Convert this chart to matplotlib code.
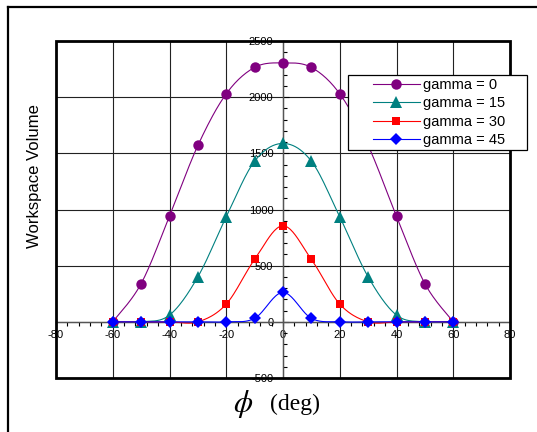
import matplotlib.pyplot as plt
import numpy as np
from matplotlib.patches import Rectangle
from matplotlib.lines import Line2D

phi = np.array([-60, -50, -40, -30, -20, -10, 0, 10, 20, 30, 40, 50, 60])
vol_g0 = np.array([0, 340, 940, 1570, 2030, 2265, 2305, 2265, 2030, 1570, 940, 340, 0])
vol_g15 = np.array([0, 0, 60, 400, 935, 1430, 1588, 1430, 935, 400, 60, 0, 0])
vol_g30 = np.array([0, 0, 0, 0, 158, 556, 855, 556, 158, 0, 0, 0, 0])
vol_g45 = np.array([0, 0, 0, 0, 0, 31, 262, 31, 0, 0, 0, 0, 0])

labels = ['gamma = 0', 'gamma = 15', 'gamma = 30', 'gamma = 45']
colors = ['#800080', '#008080', '#ff0000', '#0000ff']
markers = ['o', '^', 's', 'D']
msizes = [7.5, 8, 5.5, 6.5]


def smooth(x, y, n=24):
    # excel-style smoothed line (bezier through the points)
    pts = np.column_stack([x, y]).astype(float)
    out = [pts[0]]
    t = np.linspace(0, 1, n)[1:, None]
    for i in range(len(pts) - 1):
        p0 = pts[i - 1] if i > 0 else pts[i]
        p1, p2 = pts[i], pts[i + 1]
        p3 = pts[i + 2] if i + 2 < len(pts) else pts[i + 1]
        c1 = p1 + (p2 - p0) / 6
        c2 = p2 - (p3 - p1) / 6
        seg = ((1 - t) ** 3) * p1 + 3 * ((1 - t) ** 2) * t * c1 + 3 * (1 - t) * t ** 2 * c2 + t ** 3 * p2
        out.extend(seg)
    out = np.array(out)
    return out[:, 0], out[:, 1]


plt.rcParams['font.family'] = ['Liberation Sans', 'DejaVu Sans']
plt.rcParams['axes.unicode_minus'] = False
fig = plt.figure(figsize=(5.37, 4.32), dpi=100)
ax = fig.add_axes([56 / 537, 1 - 378 / 432, 454 / 537, 337 / 432])

ax.set_xlim(-80, 80)
ax.set_ylim(-500, 2500)
ax.set_xticks(np.arange(-80, 81, 20))
ax.set_yticks(np.arange(-500, 2501, 500))
ax.set_xticks(np.arange(-80, 81, 4), minor=True)
ax.set_yticks(np.arange(-500, 2501, 100), minor=True)
ax.grid(which='major', color='#222222', linewidth=0.8)

ax.spines['left'].set_position(('data', 0))
ax.spines['bottom'].set_position(('data', 0))
ax.spines['right'].set_visible(False)
ax.spines['top'].set_visible(False)
for s in ['left', 'bottom']:
    ax.spines[s].set_color('#555555')
    ax.spines[s].set_linewidth(1.0)
ax.tick_params(axis='x', which='major', direction='inout', length=6, width=0.8, labelsize=8, pad=3)
ax.tick_params(axis='x', which='minor', direction='out', length=3, width=0.8)
ax.tick_params(axis='y', which='major', direction='in', length=4, width=0.8, labelsize=8, pad=7)
ax.tick_params(axis='y', which='minor', direction='in', length=3, width=0.8)

for yv, lab, c, m, ms in zip([vol_g0, vol_g15, vol_g30, vol_g45], labels, colors, markers, msizes):
    sx, sy = smooth(phi, yv)
    ax.plot(sx, sy, color=c, linewidth=0.8, zorder=3)
    ax.plot(phi, yv, linestyle='none', marker=m, markersize=ms, color=c,
            markeredgewidth=0, zorder=4)

ax.add_patch(Rectangle((0, 0), 1, 1, transform=ax.transAxes, fill=False,
                       edgecolor='black', linewidth=2, zorder=10, clip_on=False))

# legend box drawn separately so the padding can be wider on the sides
fig.add_artist(Rectangle((348 / 537, 1 - 150 / 432), 179 / 537, 75 / 432,
                         transform=fig.transFigure, facecolor='white',
                         edgecolor='black', linewidth=0.9, zorder=20))
handles = [Line2D([], [], color=c, marker=m, markersize=ms, linewidth=0.8, markeredgewidth=0)
           for c, m, ms in zip(colors, markers, msizes)]
leg = fig.legend(handles, labels, loc='center left', bbox_to_anchor=(373 / 537, 1 - 112.5 / 432),
                 fontsize=10.5, frameon=False, handlelength=3.2, borderpad=0,
                 borderaxespad=0, labelspacing=0.3, handletextpad=0.25)
leg.set_zorder(21)

fig.text(35 / 537, 1 - 176 / 432, 'Workspace Volume', rotation=90, fontsize=12,
         ha='center', va='center')
fig.text(243 / 537, 1 - 404 / 432, r'$\phi$', fontsize=22, math_fontfamily='stix',
         ha='center', va='center')
fig.text(270 / 537, 1 - 404 / 432, '(deg)', fontsize=17, family='Liberation Serif',
         ha='left', va='center')

# outer frame
fig.add_artist(Line2D([8 / 537, 1], [1 - 7 / 432] * 2, color='black', linewidth=1.6,
                      transform=fig.transFigure))
fig.add_artist(Line2D([8 / 537] * 2, [0, 1 - 7 / 432], color='black', linewidth=1.6,
                      transform=fig.transFigure))

fig.savefig('out.png', dpi=100)
